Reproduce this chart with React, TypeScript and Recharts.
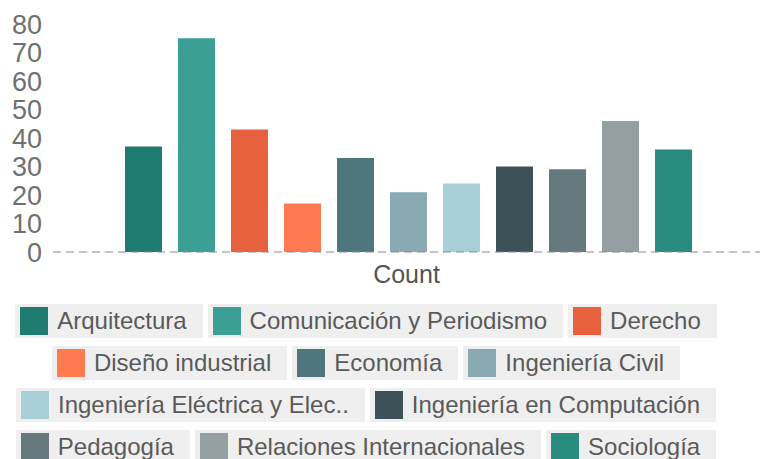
import React from "react";
import { Bar, BarChart, XAxis, YAxis } from "recharts";

const categories = ["Count"];

const majors = [
  "Arquitectura",
  "Comunicación y Periodismo",
  "Derecho",
  "Diseño industrial",
  "Economía",
  "Ingeniería Civil",
  "Ingeniería Eléctrica y Electrónica",
  "Ingeniería en Computación",
  "Pedagogía",
  "Relaciones Internacionales",
  "Sociología",
];

const counts = [37, 75, 43, 17, 33, 21, 24, 30, 29, 46, 36];

const COLORS = [
  "#1f7c70",
  "#3b9f95",
  "#e8613f",
  "#ff7a50",
  "#4f767c",
  "#8aaab3",
  "#a9d0d9",
  "#3c5158",
  "#66797c",
  "#939fa3",
  "#2a8c7f",
];

const yTicks = [0, 10, 20, 30, 40, 50, 60, 70, 80];

const data = categories.map((name) => {
  const row: Record<string, string | number> = { name };
  majors.forEach((m, i) => {
    row[m] = counts[i];
  });
  return row;
});

const shortLabel = (s: string) => (s.length > 30 ? s.slice(0, 27) + ".." : s);

const FONT = '"Liberation Sans", Arial, Helvetica, sans-serif';

const App = () => {
  return (
    <div
      style={{
        position: "absolute",
        left: 0,
        top: 0,
        width: 764,
        height: 459,
        background: "#fff",
        overflow: "hidden",
        fontFamily: FONT,
      }}
    >
      <BarChart
        width={764}
        height={300}
        data={data}
        margin={{ top: 24, right: 4, bottom: 0, left: 0 }}
        barCategoryGap={72}
        barGap={16}
      >
        <XAxis
          dataKey="name"
          height={48}
          tickLine={false}
          tickMargin={7}
          axisLine={{ stroke: "#8c8890", strokeDasharray: "8 5", strokeWidth: 1.2 }}
          tick={{ fontSize: 25, fill: "#555", fontFamily: FONT }}
        />
        <YAxis
          width={53}
          domain={[0, 80]}
          ticks={yTicks}
          interval={0}
          axisLine={false}
          tickLine={false}
          tickMargin={5}
          tick={{ fontSize: 27, fill: "#707070", fontFamily: FONT }}
        />
        {majors.map((m, i) => (
          <Bar key={m} dataKey={m} fill={COLORS[i]} isAnimationActive={false} />
        ))}
      </BarChart>
      <div
        style={{
          position: "absolute",
          left: 0,
          top: 304,
          width: 732,
          display: "flex",
          flexWrap: "wrap",
          justifyContent: "center",
          columnGap: 5,
          rowGap: 8,
        }}
      >
        {majors.map((m, i) => (
          <div
            key={m}
            style={{
              display: "flex",
              alignItems: "center",
              height: 34,
              padding: "0 16px 0 5px",
              background: "#efefef",
              boxSizing: "border-box",
            }}
          >
            <span
              style={{
                width: 28,
                height: 28,
                background: COLORS[i],
                marginRight: 9,
                display: "inline-block",
              }}
            />
            <span style={{ fontSize: 24, color: "#5a5a5a", whiteSpace: "nowrap" }}>
              {shortLabel(m)}
            </span>
          </div>
        ))}
      </div>
    </div>
  );
};

export default App;
